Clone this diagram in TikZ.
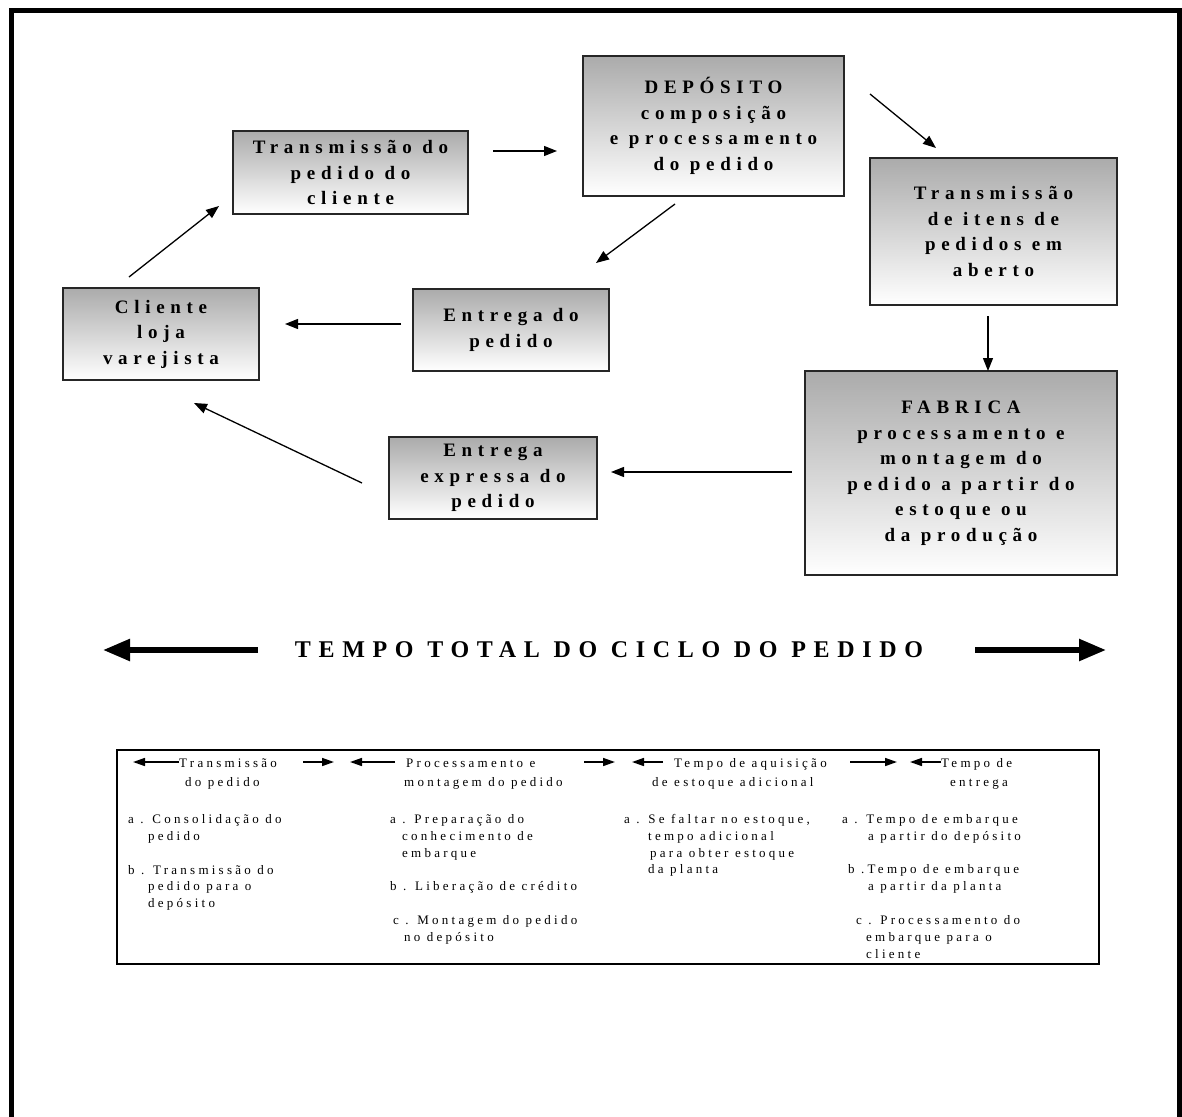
\documentclass[tikz,border=0pt]{standalone}
\usepackage{fontspec}
\setmainfont{Liberation Serif}
\newfontfamily\boxfont[LetterSpace=30]{Liberation Serif}
\newfontfamily\notefont[LetterSpace=25]{Liberation Serif}
\newfontfamily\titlefont[LetterSpace=32]{Liberation Serif}
\usetikzlibrary{arrows.meta}

\begin{document}
\begin{tikzpicture}[x=1pt,y=-1pt,
  stage/.style={draw=black!85, line width=1.6pt, top color=black!33, bottom color=white,
    inner sep=0pt, align=center,
    font=\boxfont\bfseries\fontsize{19}{25.5}\selectfont},
  flow/.style={line width=1.3pt, -{Triangle[length=13pt,width=10pt]}},
  bigflow/.style={line width=5.5pt, -{Triangle[length=27pt,width=21pt]}},
  smallflow/.style={line width=1.6pt, -{Triangle[length=12pt,width=8pt]}},
  note/.style={anchor=base west, inner sep=0pt, font=\notefont\fontsize{13}{15}\selectfont},
  head/.style={note}
]
\useasboundingbox (0,0) rectangle (1182,1116);

% outer frame, open at the foot of the page
\draw[line width=4.5pt] (11.5,1120) -- (11.5,10.5) -- (1179.5,10.5) -- (1179.5,1120);

% stages of the order cycle
\node[stage, minimum width=235pt, minimum height=83pt]  (tx)  at (350.5,172.5) {Transmissão do\\pedido do\\cliente};
\node[stage, minimum width=261pt, minimum height=140pt] (dep) at (713.5,126)   {DEPÓSITO\\composição\\e processamento\\do pedido};
\node[stage, minimum width=247pt, minimum height=147pt] (itm) at (993.5,231.5) {Transmissão\\de itens de\\pedidos em\\aberto};
\node[stage, minimum width=312pt, minimum height=204pt] (fab) at (961,473)     {FABRICA\\processamento e\\montagem do\\pedido a partir do\\estoque ou\\da produção};
\node[stage, minimum width=196pt, minimum height=82pt]  (ent) at (511,330)     {Entrega do\\pedido};
\node[stage, minimum width=196pt, minimum height=92pt]  (cli) at (161,334)     {Cliente\\loja\\varejista};
\node[stage, minimum width=208pt, minimum height=82pt]  (exp) at (493,478)     {Entrega\\expressa do\\pedido};

% arrow ends
\coordinate (a1s) at (493,151);  \coordinate (a1e) at (557,151);
\coordinate (a2s) at (870,94);   \coordinate (a2e) at (936,148);
\coordinate (a3s) at (675,204);  \coordinate (a3e) at (596,263);
\coordinate (a4s) at (988,316);  \coordinate (a4e) at (988,371);
\coordinate (a5s) at (792,472);  \coordinate (a5e) at (611,472);
\coordinate (a6s) at (362,483);  \coordinate (a6e) at (194,403);
\coordinate (a7s) at (401,324);  \coordinate (a7e) at (285,324);
\coordinate (a8s) at (129,277);  \coordinate (a8e) at (219,206);

\draw[flow] (a1s) -- (a1e);
\draw[flow] (a2s) -- (a2e);
\draw[flow] (a3s) -- (a3e);
\draw[flow] (a4s) -- (a4e);
\draw[flow] (a5s) -- (a5e);
\draw[flow] (a6s) -- (a6e);
\draw[flow] (a7s) -- (a7e);
\draw[flow] (a8s) -- (a8e);

% total cycle time
\node[inner sep=0pt, font=\titlefont\bfseries\fontsize{24}{27}\selectfont] (total) at (609,650) {TEMPO TOTAL DO CICLO DO PEDIDO};
\coordinate (tl0) at (258,650); \coordinate (tl1) at (103,650);
\coordinate (tr0) at (975,650); \coordinate (tr1) at (1106,650);
\draw[bigflow] (tl0) -- (tl1);
\draw[bigflow] (tr0) -- (tr1);

% breakdown panel
\draw[line width=1.1pt] (117,750) rectangle (1099,964);

\node[head] (h1a) at (179,767) {Transmissão};
\node[head] (h1b) at (185,786) {do pedido};
\node[head] (h2a) at (406,767) {Processamento e};
\node[head] (h2b) at (404,786) {montagem do pedido};
\node[head] (h3a) at (674,767) {Tempo de aquisição};
\node[head] (h3b) at (652,786) {de estoque adicional};
\node[head] (h4a) at (941,767) {Tempo de};
\node[head] (h4b) at (950,786) {entrega};

\coordinate (s1s) at (179,762); \coordinate (s1e) at (133,762);
\coordinate (s2s) at (303,762); \coordinate (s2e) at (334,762);
\coordinate (s3s) at (395,762); \coordinate (s3e) at (350,762);
\coordinate (s4s) at (584,762); \coordinate (s4e) at (615,762);
\coordinate (s5s) at (663,762); \coordinate (s5e) at (632,762);
\coordinate (s6s) at (850,762); \coordinate (s6e) at (897,762);
\coordinate (s7s) at (941,762); \coordinate (s7e) at (910,762);
\draw[smallflow] (s1s) -- (s1e);
\draw[smallflow] (s2s) -- (s2e);
\draw[smallflow] (s3s) -- (s3e);
\draw[smallflow] (s4s) -- (s4e);
\draw[smallflow] (s5s) -- (s5e);
\draw[smallflow] (s6s) -- (s6e);
\draw[smallflow] (s7s) -- (s7e);

% order transmission
\node[note] (c1l1) at (128,823) {a . Consolidação do};
\node[note] (c1l2) at (148,840) {pedido};
\node[note] (c1l3) at (128,874) {b . Transmissão do};
\node[note] (c1l4) at (148,890) {pedido para o};
\node[note] (c1l5) at (148,907) {depósito};

% order processing and assembly
\node[note] (c2l1) at (390,823) {a .  Preparação do};
\node[note] (c2l2) at (402,840) {conhecimento de};
\node[note] (c2l3) at (402,857) {embarque};
\node[note] (c2l4) at (390,890) {b . Liberação de crédito};
\node[note] (c2l5) at (393,924) {c . Montagem do pedido};
\node[note] (c2l6) at (404,941) {no depósito};

% additional stock acquisition
\node[note] (c3l1) at (624,823) {a . Se faltar no estoque,};
\node[note] (c3l2) at (648,840) {tempo adicional};
\node[note] (c3l3) at (650,857) {para obter estoque};
\node[note] (c3l4) at (648,873) {da planta};

% delivery
\node[note] (c4l1) at (842,823) {a . Tempo de embarque};
\node[note] (c4l2) at (868,840) {a partir do depósito};
\node[note] (c4l3) at (848,873) {b .Tempo de embarque};
\node[note] (c4l4) at (868,890) {a partir da planta};
\node[note] (c4l5) at (856,924) {c . Processamento do};
\node[note] (c4l6) at (866,941) {embarque para o};
\node[note] (c4l7) at (866,958) {cliente};
\end{tikzpicture}
\end{document}
